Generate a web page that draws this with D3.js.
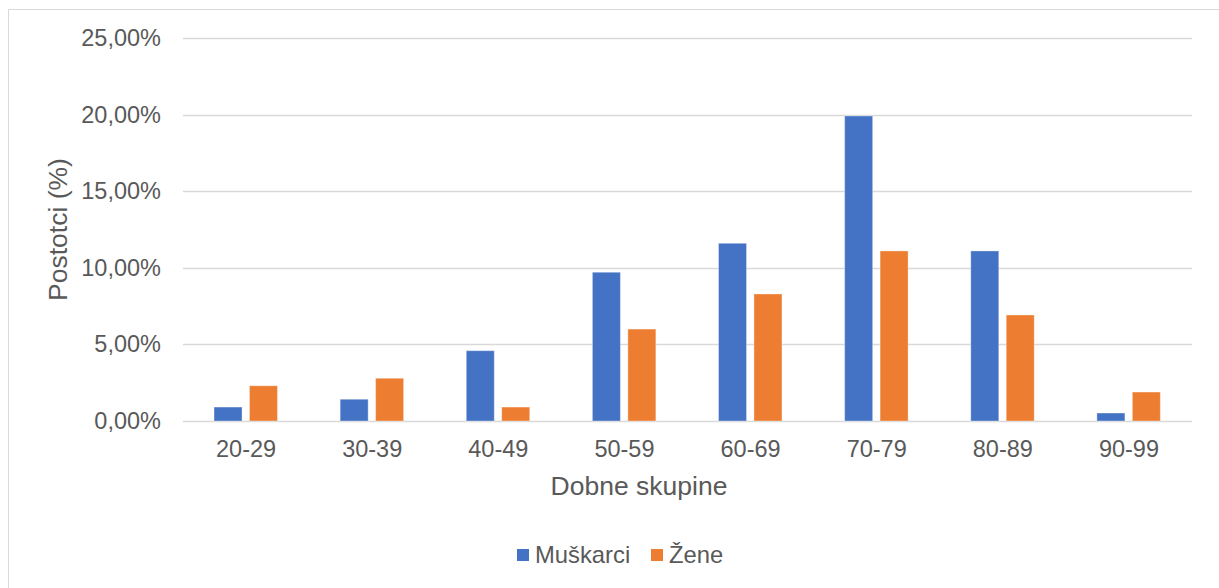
<!DOCTYPE html>
<html><head><meta charset="utf-8">
<script src="https://cdn.jsdelivr.net/npm/d3@7"></script>
<style>body{margin:0;background:#fff}svg{display:block}text{font-family:"Liberation Sans",Arial,sans-serif;fill:#595959}</style>
</head><body>
<svg id="c" width="1219" height="588"></svg>
<script>
const categories = ["20-29","30-39","40-49","50-59","60-69","70-79","80-89","90-99"];
const seriesNames = ["Muškarci","Žene"];
const muskarci = [0.91,1.42,4.59,9.71,11.6,19.91,11.1,0.52];
const zene = [2.30,2.79,0.91,6.0,8.29,11.1,6.92,1.89];
const yTicks = [0,5,10,15,20,25];
const colors = ["#4472C4","#ED7D31"];

const svg = d3.select("#c");
const m = {l:183, r:1192, t:38, b:421};

// frame (top + left edges)
svg.append("line").attr("x1",8.5).attr("x2",1219).attr("y1",9.5).attr("y2",9.5).attr("stroke","#d9d9d9");
svg.append("line").attr("x1",8.5).attr("x2",8.5).attr("y1",9.5).attr("y2",588).attr("stroke","#d9d9d9");

const x = d3.scaleBand().domain(categories).range([m.l,m.r]).padding(0);
const bw = x.bandwidth();
const x1 = d3.scaleBand().domain(seriesNames).range([bw*0.246, bw*0.749]).paddingInner(0.21);
const y = d3.scaleLinear().domain([0,25]).range([m.b,m.t]);

// gridlines
svg.append("g").selectAll("line").data(yTicks).join("line")
  .attr("x1",m.l).attr("x2",m.r)
  .attr("y1",d=>Math.round(y(d))+0.5).attr("y2",d=>Math.round(y(d))+0.5)
  .attr("stroke","#d9d9d9").attr("stroke-width",1.3);

// y tick labels
const fmt = d => d3.format(".2f")(d).replace(".",",") + "%";
const yAxis = d3.axisLeft(y).tickValues(yTicks).tickFormat(fmt).tickSize(0).tickPadding(22);
const ga = svg.append("g").attr("transform",`translate(${m.l},0)`).call(yAxis);
ga.select(".domain").remove();
ga.selectAll("text").attr("font-size",23.5).attr("font-family","Liberation Sans, Arial, sans-serif").attr("fill","#595959");

// bars
const data = categories.map((c,i)=>({c, vals:[muskarci[i], zene[i]]}));
const groups = svg.append("g").selectAll("g").data(data).join("g")
  .attr("transform",d=>`translate(${x(d.c)},0)`);
groups.selectAll("rect").data(d=>d.vals.map((v,j)=>({s:seriesNames[j],v,j}))).join("rect")
  .attr("x",d=>x1(d.s)).attr("width",x1.bandwidth())
  .attr("y",d=>y(d.v)).attr("height",d=>y(0)-y(d.v))
  .attr("fill",d=>colors[d.j])
  .attr("stroke","rgba(255,255,255,0.35)").attr("stroke-width",1);

// x axis labels
const xAxis = d3.axisBottom(x).tickSize(0).tickPadding(19);
const gx = svg.append("g").attr("transform",`translate(0,${m.b})`).call(xAxis);
gx.select(".domain").remove();
gx.selectAll("text").attr("font-size",23.5).attr("font-family","Liberation Sans, Arial, sans-serif").attr("fill","#595959");

// axis titles
svg.append("text").attr("transform",`translate(67,${(m.t+m.b)/2}) rotate(-90)`)
  .attr("text-anchor","middle").attr("font-size",26.5).text("Postotci (%)");
svg.append("text").attr("x",639).attr("y",495).attr("text-anchor","middle").attr("font-size",26.5).text("Dobne skupine");

// legend
const legX = [517, 651];
const lg = svg.append("g").selectAll("g").data(seriesNames).join("g")
  .attr("transform",(d,i)=>`translate(${legX[i]},549)`);
lg.append("rect").attr("width",12).attr("height",12).attr("fill",(d,i)=>colors[i]);
lg.append("text").attr("x",18).attr("y",13.5).attr("font-size",23.8).text(d=>d);
</script>
</body></html>
